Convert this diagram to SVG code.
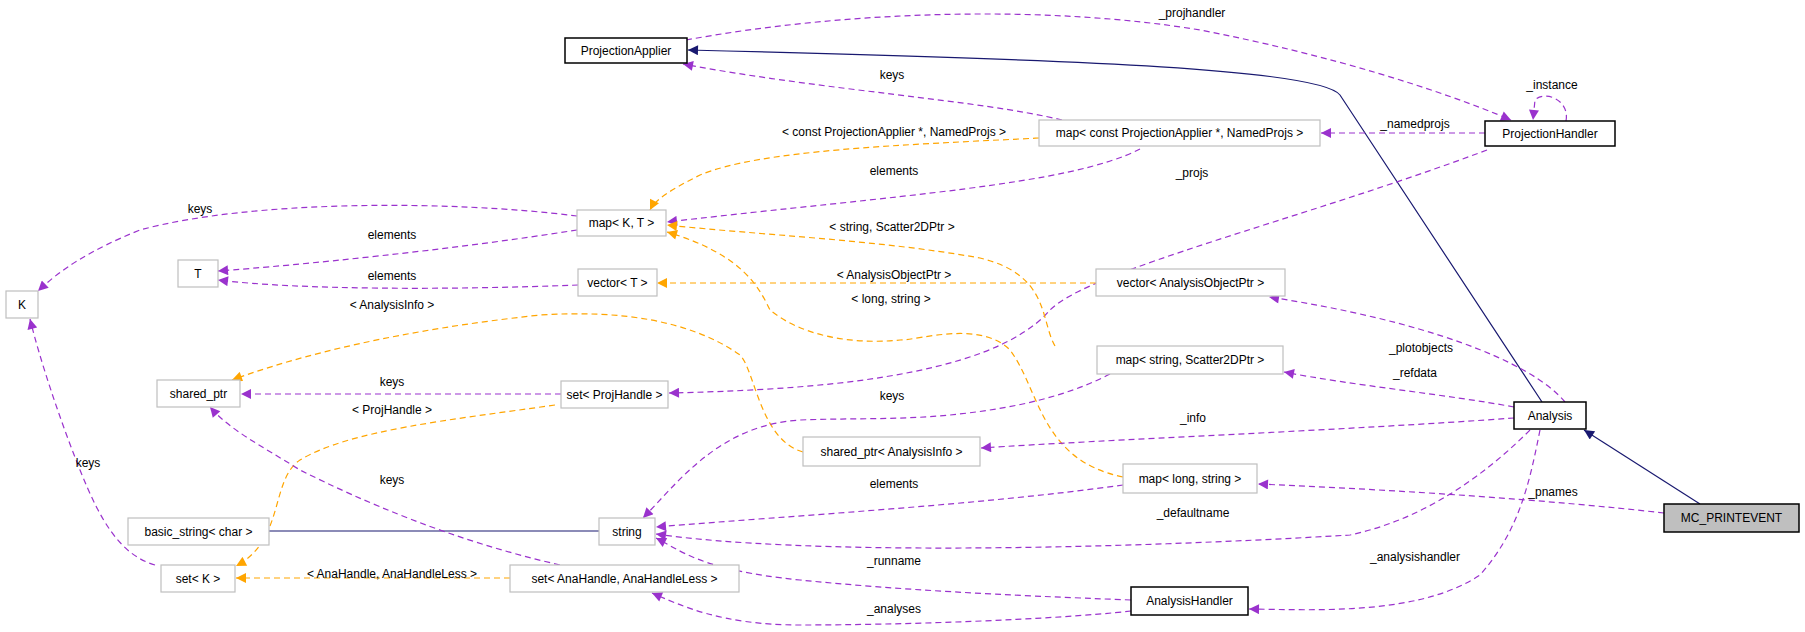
<svg xmlns="http://www.w3.org/2000/svg" width="1805" height="632" viewBox="0 0 1805 632">
<style>
text{font-family:"Liberation Sans",Arial,sans-serif;font-size:12px;fill:#000}
.n rect{fill:#fff;stroke:#bfbfbf;stroke-width:1.2}
.b rect{fill:#fff;stroke:#000;stroke-width:1.5}
.g rect{fill:#bfbfbf;stroke:#000;stroke-width:1.5}
.n text,.b text,.g text{text-anchor:middle}
.p{fill:none;stroke:#9a32cd;stroke-width:1.2;stroke-dasharray:6,4;marker-end:url(#mp)}
.o{fill:none;stroke:#ffa500;stroke-width:1.2;stroke-dasharray:6,4;marker-end:url(#mo)}
.s{fill:none;stroke:#191970;stroke-width:1.2;marker-end:url(#ms)}
.l{text-anchor:middle}
</style>
<defs>
<marker id="mp" viewBox="0 0 10 10" refX="10" refY="5" markerWidth="12" markerHeight="10" orient="auto" markerUnits="userSpaceOnUse"><path d="M0,0L10,5L0,10z" fill="#9a32cd"/></marker>
<marker id="mo" viewBox="0 0 10 10" refX="10" refY="5" markerWidth="12" markerHeight="10" orient="auto" markerUnits="userSpaceOnUse"><path d="M0,0L10,5L0,10z" fill="#ffa500"/></marker>
<marker id="ms" viewBox="0 0 10 10" refX="10" refY="5" markerWidth="12" markerHeight="10" orient="auto" markerUnits="userSpaceOnUse"><path d="M0,0L10,5L0,10z" fill="#191970"/></marker>
</defs>
<rect width="1805" height="632" fill="#fff"/>
<g id="edges">
<path class="s" d="M1542,402 L1340,95 C1320,70 1100,60 688,50"/>
<path class="s" d="M1700,504 L1584,430"/>
<path class="s" d="M599,531 L237,531"/>
<path class="p" d="M686,40 C850,10 1050,5 1200,30 C1330,55 1440,90 1511,120"/>
<path class="p" d="M1566,121 C1570,100 1545,90 1535,100 L1533,120"/>
<path class="p" d="M1062,120 C980,100 820,90 683,64"/>
<path class="p" d="M1485,133 L1321,133"/>
<path class="o" d="M1039,138 C900,145 760,150 700,175 C670,190 655,200 650,210"/>
<path class="p" d="M1140,149 C1070,185 900,195 667,222"/>
<path class="p" d="M1487,150 C1300,220 1090,270 1050,310 C990,380 800,390 669,393"/>
<path class="p" d="M577,216 C450,200 250,200 140,230 C90,250 60,270 38,291"/>
<path class="p" d="M577,230 C450,250 300,265 218,271"/>
<path class="p" d="M578,285 C450,290 300,290 218,280"/>
<path class="o" d="M1096,283 L657,283"/>
<path class="o" d="M1055,346 C1040,320 1050,275 980,258 C880,240 760,235 667,225"/>
<path class="o" d="M1123,477 C1040,460 1040,390 1010,350 C980,320 920,340 900,340 C850,345 800,335 770,310 C760,290 745,255 667,232"/>
<path class="o" d="M803,452 C760,440 755,370 740,355 C690,320 620,310 540,315 C400,330 300,355 232,380"/>
<path class="p" d="M561,394 L241,394"/>
<path class="o" d="M555,405 C450,420 350,430 300,460 C270,480 285,540 236,566"/>
<path class="p" d="M560,565 C450,540 360,500 300,470 C260,445 230,430 210,407"/>
<path class="p" d="M155,565 C120,555 100,520 80,470 C60,420 40,360 30,319"/>
<path class="o" d="M510,578 L236,578"/>
<path class="p" d="M1110,374 C1060,400 1000,410 950,415 C900,420 850,418 800,420 C720,425 680,480 643,518"/>
<path class="p" d="M1565,402 C1530,360 1420,320 1269,297"/>
<path class="p" d="M1514,407 C1450,395 1350,385 1284,372"/>
<path class="p" d="M1514,418 C1350,430 1100,440 981,448"/>
<path class="p" d="M1530,430 C1480,480 1420,520 1350,535 C1100,550 800,555 656,534"/>
<path class="p" d="M1123,485 C980,505 800,515 656,527"/>
<path class="p" d="M1131,600 C1000,595 900,590 800,580 C700,570 680,550 656,538"/>
<path class="p" d="M1131,611 C1050,620 900,625 800,625 C720,625 680,605 652,593"/>
<path class="p" d="M1540,430 C1530,480 1520,530 1480,575 C1420,615 1320,610 1249,609"/>
<path class="p" d="M1664,513 C1550,500 1400,490 1258,484"/>
</g>
<g id="labels">
<text class="l" x="1192" y="17">_projhandler</text>
<text class="l" x="1552" y="89">_instance</text>
<text class="l" x="892" y="79">keys</text>
<text class="l" x="1415" y="128">_namedprojs</text>
<text class="l" x="894" y="136">&lt; const ProjectionApplier *, NamedProjs &gt;</text>
<text class="l" x="894" y="175">elements</text>
<text class="l" x="1192" y="177">_projs</text>
<text class="l" x="200" y="213">keys</text>
<text class="l" x="392" y="239">elements</text>
<text class="l" x="892" y="231">&lt; string, Scatter2DPtr &gt;</text>
<text class="l" x="392" y="280">elements</text>
<text class="l" x="894" y="279">&lt; AnalysisObjectPtr &gt;</text>
<text class="l" x="891" y="303">&lt; long, string &gt;</text>
<text class="l" x="392" y="309">&lt; AnalysisInfo &gt;</text>
<text class="l" x="1421" y="352">_plotobjects</text>
<text class="l" x="1415" y="377">_refdata</text>
<text class="l" x="392" y="386">keys</text>
<text class="l" x="892" y="400">keys</text>
<text class="l" x="392" y="414">&lt; ProjHandle &gt;</text>
<text class="l" x="1193" y="422">_info</text>
<text class="l" x="88" y="467">keys</text>
<text class="l" x="392" y="484">keys</text>
<text class="l" x="894" y="488">elements</text>
<text class="l" x="1553" y="496">_pnames</text>
<text class="l" x="1193" y="517">_defaultname</text>
<text class="l" x="1415" y="561">_analysishandler</text>
<text class="l" x="894" y="565">_runname</text>
<text class="l" x="392" y="578">&lt; AnaHandle, AnaHandleLess &gt;</text>
<text class="l" x="894" y="613">_analyses</text>
</g>
<g id="ProjectionApplier" class="b"><rect x="565" y="38" width="122" height="25"/><text x="626" y="55">ProjectionApplier</text></g>
<g id="ProjectionHandler" class="b"><rect x="1485" y="121" width="130" height="25"/><text x="1550" y="138">ProjectionHandler</text></g>
<g id="mapConstPA" class="n"><rect x="1039" y="120" width="281" height="26"/><text x="1179.5" y="137">map&lt; const ProjectionApplier *, NamedProjs &gt;</text></g>
<g id="mapKT" class="n"><rect x="577" y="210" width="89" height="26"/><text x="621.5" y="227">map&lt; K, T &gt;</text></g>
<g id="T" class="n"><rect x="178" y="260" width="40" height="27"/><text x="198" y="278">T</text></g>
<g id="vectorT" class="n"><rect x="578" y="269" width="79" height="27"/><text x="617.5" y="287">vector&lt; T &gt;</text></g>
<g id="K" class="n"><rect x="6" y="291" width="32" height="27"/><text x="22" y="309">K</text></g>
<g id="vectorAOP" class="n"><rect x="1096" y="269" width="189" height="27"/><text x="1190.5" y="287">vector&lt; AnalysisObjectPtr &gt;</text></g>
<g id="shared_ptr" class="n"><rect x="157" y="380" width="83" height="27"/><text x="198.5" y="398">shared_ptr</text></g>
<g id="setProjHandle" class="n"><rect x="561" y="381" width="107" height="27"/><text x="614.5" y="399">set&lt; ProjHandle &gt;</text></g>
<g id="mapStringScatter" class="n"><rect x="1097" y="346" width="186" height="28"/><text x="1190" y="364">map&lt; string, Scatter2DPtr &gt;</text></g>
<g id="sharedPtrAI" class="n"><rect x="803" y="437" width="177" height="29"/><text x="891.5" y="456">shared_ptr&lt; AnalysisInfo &gt;</text></g>
<g id="mapLongString" class="n"><rect x="1123" y="464" width="134" height="29"/><text x="1190" y="483">map&lt; long, string &gt;</text></g>
<g id="Analysis" class="b"><rect x="1514" y="402" width="72" height="27"/><text x="1550" y="420">Analysis</text></g>
<g id="MC_PRINTEVENT" class="g"><rect x="1664" y="504" width="135" height="28"/><text x="1731.5" y="522">MC_PRINTEVENT</text></g>
<g id="basic_string" class="n"><rect x="128" y="518" width="141" height="27"/><text x="198.5" y="536">basic_string&lt; char &gt;</text></g>
<g id="string" class="n"><rect x="599" y="518" width="56" height="27"/><text x="627" y="536">string</text></g>
<g id="setK" class="n"><rect x="161" y="565" width="74" height="27"/><text x="198" y="583">set&lt; K &gt;</text></g>
<g id="setAnaHandle" class="n"><rect x="510" y="565" width="229" height="27"/><text x="624.5" y="583">set&lt; AnaHandle, AnaHandleLess &gt;</text></g>
<g id="AnalysisHandler" class="b"><rect x="1131" y="587" width="117" height="28"/><text x="1189.5" y="605">AnalysisHandler</text></g>
</svg>
